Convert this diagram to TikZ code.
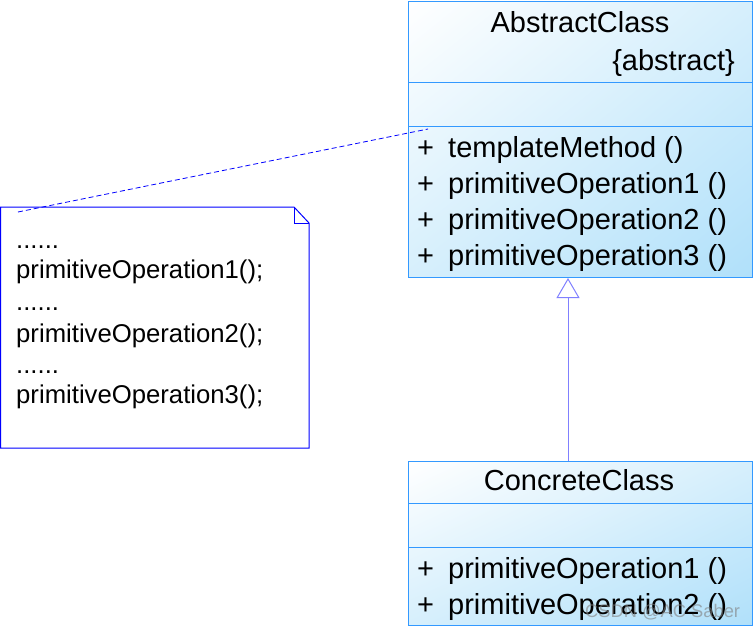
\documentclass[tikz,border=0pt]{standalone}
\usepackage{fontspec}
\setmainfont{Liberation Sans}
\usetikzlibrary{arrows.meta,shadings}

\definecolor{clsBorder}{RGB}{51,153,255}
\definecolor{clsFill}{RGB}{176,224,250}
\definecolor{clsMid}{RGB}{214,239,252}
\definecolor{noteBlue}{RGB}{0,0,255}
\definecolor{genLine}{RGB}{128,128,255}

\tikzset{
  classbox/.style={draw=clsBorder, line width=1pt, upper left=white, lower right=clsFill,
    upper right=clsMid, lower left=clsMid, minimum width=344pt, inner sep=0pt, anchor=north west},
  sepline/.style={draw=clsBorder, line width=1pt},
  member/.style={anchor=base west, inner sep=0pt, font=\fontsize{29}{34}\selectfont},
  notetext/.style={anchor=base west, inner sep=0pt, font=\fontsize{25.7}{30}\selectfont},
}

\begin{document}
\begin{tikzpicture}[x=1pt, y=-1pt]

    % Page size matched to the image
    \useasboundingbox (0,0) rectangle (756,629);

    % The abstract class with its three compartments
    \node[classbox, minimum height=276pt] (abs) at (408,1) {};
    \draw[sepline] (abs.west |- 0,82) -- (abs.east |- 0,82);
    \draw[sepline] (abs.west |- 0,126) -- (abs.east |- 0,126);
    \node[member, anchor=base] (absname) at (580,32) {AbstractClass};
    \node[member, anchor=base east] (abstag) at (735,70) {\{abstract\}};
    \foreach \m [count=\i] in {templateMethod, primitiveOperation1, primitiveOperation2, primitiveOperation3} {
        \node[member] (absplus\i) at (417,121+36*\i) {+};
        \node[member] (absop\i) at (448,121+36*\i) {\m\ ()};
    }

    % The concrete class
    \node[classbox, minimum height=164pt] (con) at (408,461) {};
    \draw[sepline] (con.west |- 0,503) -- (con.east |- 0,503);
    \draw[sepline] (con.west |- 0,547) -- (con.east |- 0,547);
    \node[member, anchor=base] (conname) at (579,490) {ConcreteClass};
    \foreach \m [count=\i] in {primitiveOperation1, primitiveOperation2} {
        \node[member] (conplus\i) at (417,542+36*\i) {+};
        \node[member] (conop\i) at (448,542+36*\i) {\m\ ()};
    }

    % Generalization from the concrete class up to the abstract one
    \coordinate (gen) at (568,461);
    \draw[genLine, line width=1pt, -{Triangle[open, width=23pt, length=20pt]}] (gen) -- (abs.south -| gen);

    % The note with its folded corner
    \draw[noteBlue, line width=1pt, fill=white] (0.5,207) -- (294,207) -- (309,223) -- (309,448) -- (0.5,448) -- cycle;
    \draw[noteBlue, line width=1pt] (294,207) -- (294,223) -- (309,223);
    \node[notetext] (dots1) at (16,248) {......};
    \node[notetext] (call1) at (16,278) {primitiveOperation1();};
    \node[notetext] (dots2) at (16,310) {......};
    \node[notetext] (call2) at (16,342) {primitiveOperation2();};
    \node[notetext] (dots3) at (16,373) {......};
    \node[notetext] (call3) at (16,403) {primitiveOperation3();};

    % Dashed link from the note to the template method
    \coordinate (noteend) at (18,212);
    \coordinate (absend) at (428,129);
    \draw[noteBlue, line width=0.8pt, dash pattern=on 5pt off 3pt] (noteend) -- (absend);

    % Watermark
    \node[anchor=base west, inner sep=0pt, text=gray, opacity=0.6, font=\fontsize{18.3}{22}\selectfont] (mark) at (585,617) {CSDN @AC Saber};

\end{tikzpicture}
\end{document}
